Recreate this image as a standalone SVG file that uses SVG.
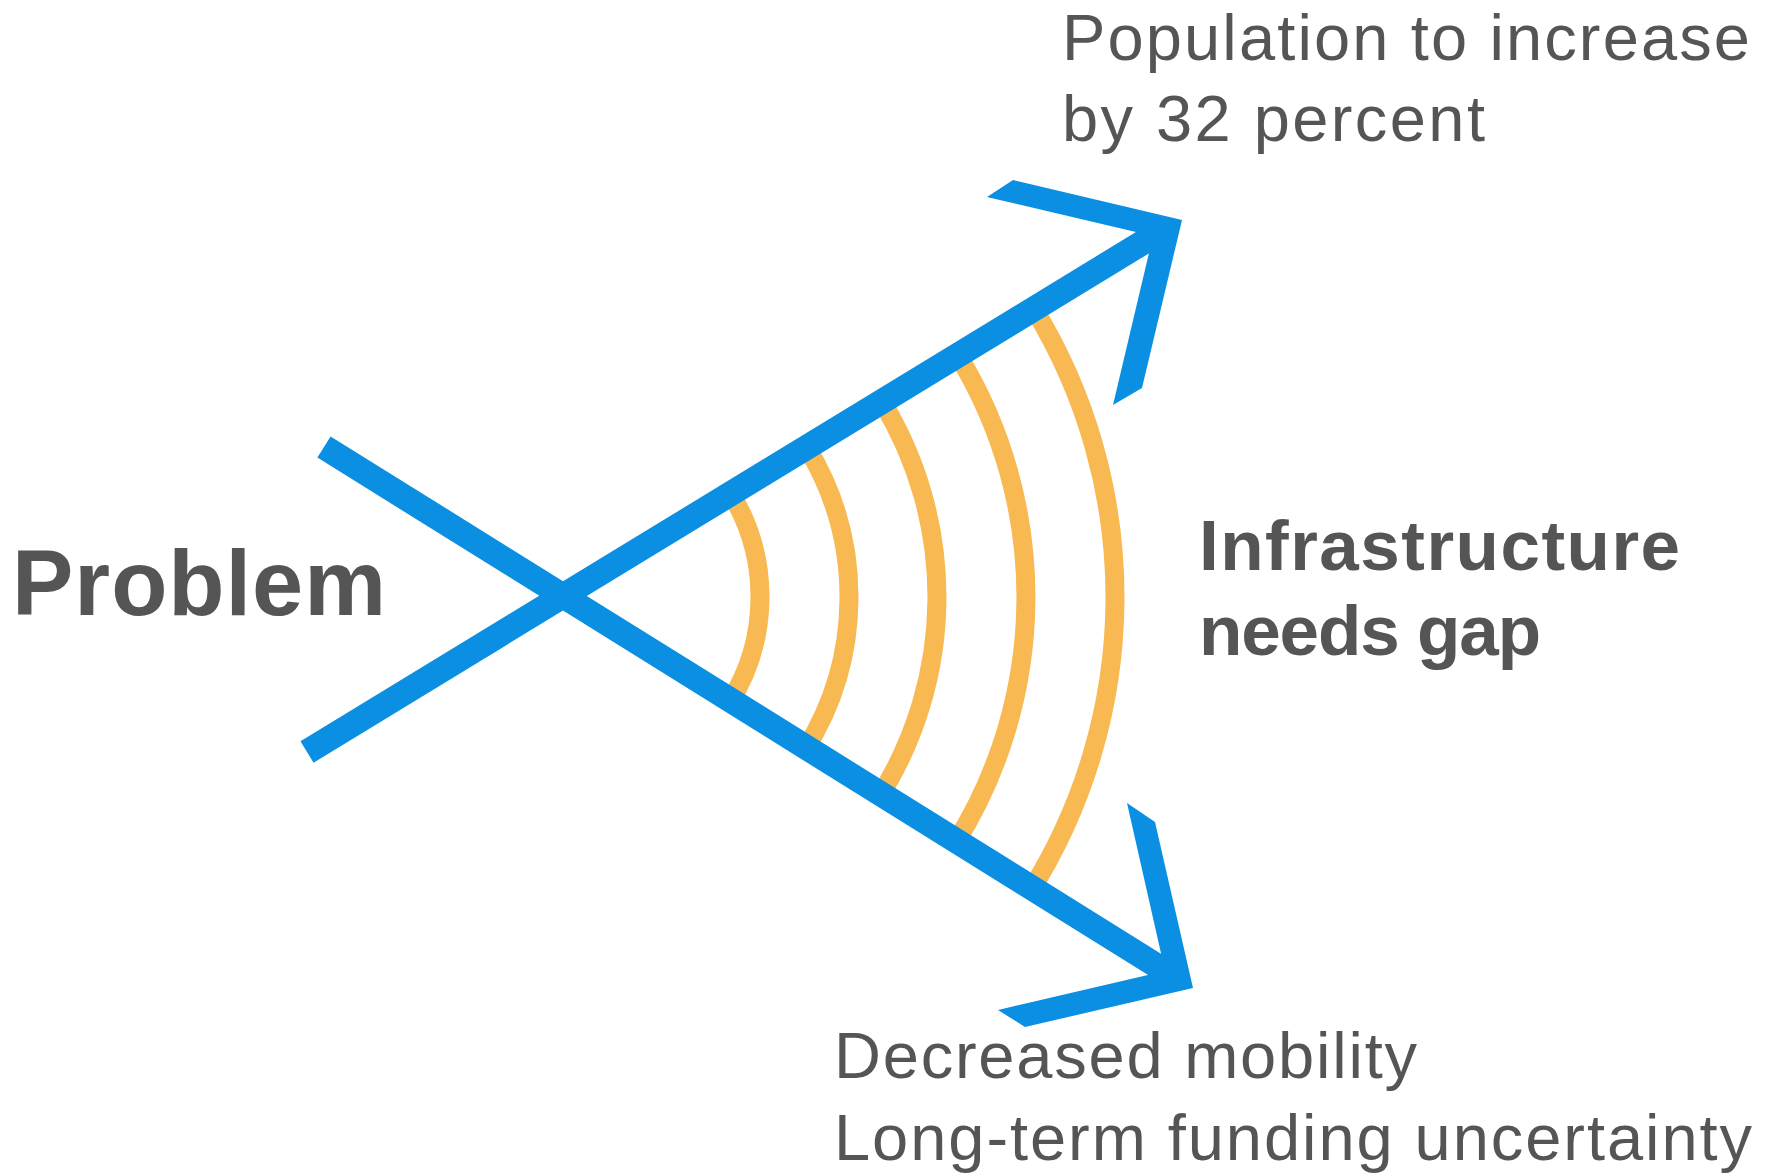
<svg xmlns="http://www.w3.org/2000/svg" width="1777" height="1176" viewBox="0 0 1777 1176">
  <style>
    .txt { font-family: "Liberation Sans", Arial, sans-serif; fill: #555555; }
    .bold { font-weight: bold; }
    .shaft { stroke: #0a8fe2; stroke-width: 25; fill: none; stroke-linecap: butt; }
    .head { fill: #0a8fe2; stroke: none; }
    .wave { stroke: #f9b952; stroke-width: 19; fill: none; stroke-linecap: butt; }
  </style>
  <rect x="0" y="0" width="1777" height="1176" fill="#ffffff"/>

  <g id="waves">
    <path class="wave" d="M731.2,494.1 A198,198 0 0 1 729.5,702.5"/>
    <path class="wave" d="M807.2,447.9 A287,287 0 0 1 804.9,749.9"/>
    <path class="wave" d="M882.4,402.2 A375,375 0 0 1 879.3,796.8"/>
    <path class="wave" d="M958.4,356.0 A464,464 0 0 1 954.6,844.3"/>
    <path class="wave" d="M1034.5,309.8 A553,553 0 0 1 1030.0,891.7"/>
  </g>

  <g id="connectors">
    <g id="arrow-up">
      <line class="shaft" x1="307" y1="752" x2="1160" y2="232"/>
      <polygon class="head" points="987,197 1013,180 1182,220 1142,388 1113,405 1153,236"/>
    </g>
    <g id="arrow-down">
      <line class="shaft" x1="324" y1="447" x2="1170" y2="974"/>
      <polygon class="head" points="1127,803 1155,822 1193,988 1025,1027 998,1010 1165,971"/>
    </g>
  </g>

  <g id="node-problem">
    <text class="txt bold" x="12" y="615" font-size="92" textLength="374" lengthAdjust="spacing">Problem</text>
  </g>

  <g id="node-population">
    <text class="txt" x="1062" y="60" font-size="65" textLength="688" lengthAdjust="spacing">Population to increase</text>
    <text class="txt" x="1062" y="141" font-size="65" textLength="423" lengthAdjust="spacing">by 32 percent</text>
  </g>

  <g id="node-gap">
    <text class="txt bold" x="1199" y="570" font-size="71" textLength="481" lengthAdjust="spacing">Infrastructure</text>
    <text class="txt bold" x="1199" y="655" font-size="71" textLength="342" lengthAdjust="spacing">needs gap</text>
  </g>

  <g id="node-decreased">
    <text class="txt" x="834" y="1078" font-size="65" textLength="583" lengthAdjust="spacing">Decreased mobility</text>
    <text class="txt" x="834" y="1160" font-size="65" textLength="918" lengthAdjust="spacing">Long-term funding uncertainty</text>
  </g>
</svg>
